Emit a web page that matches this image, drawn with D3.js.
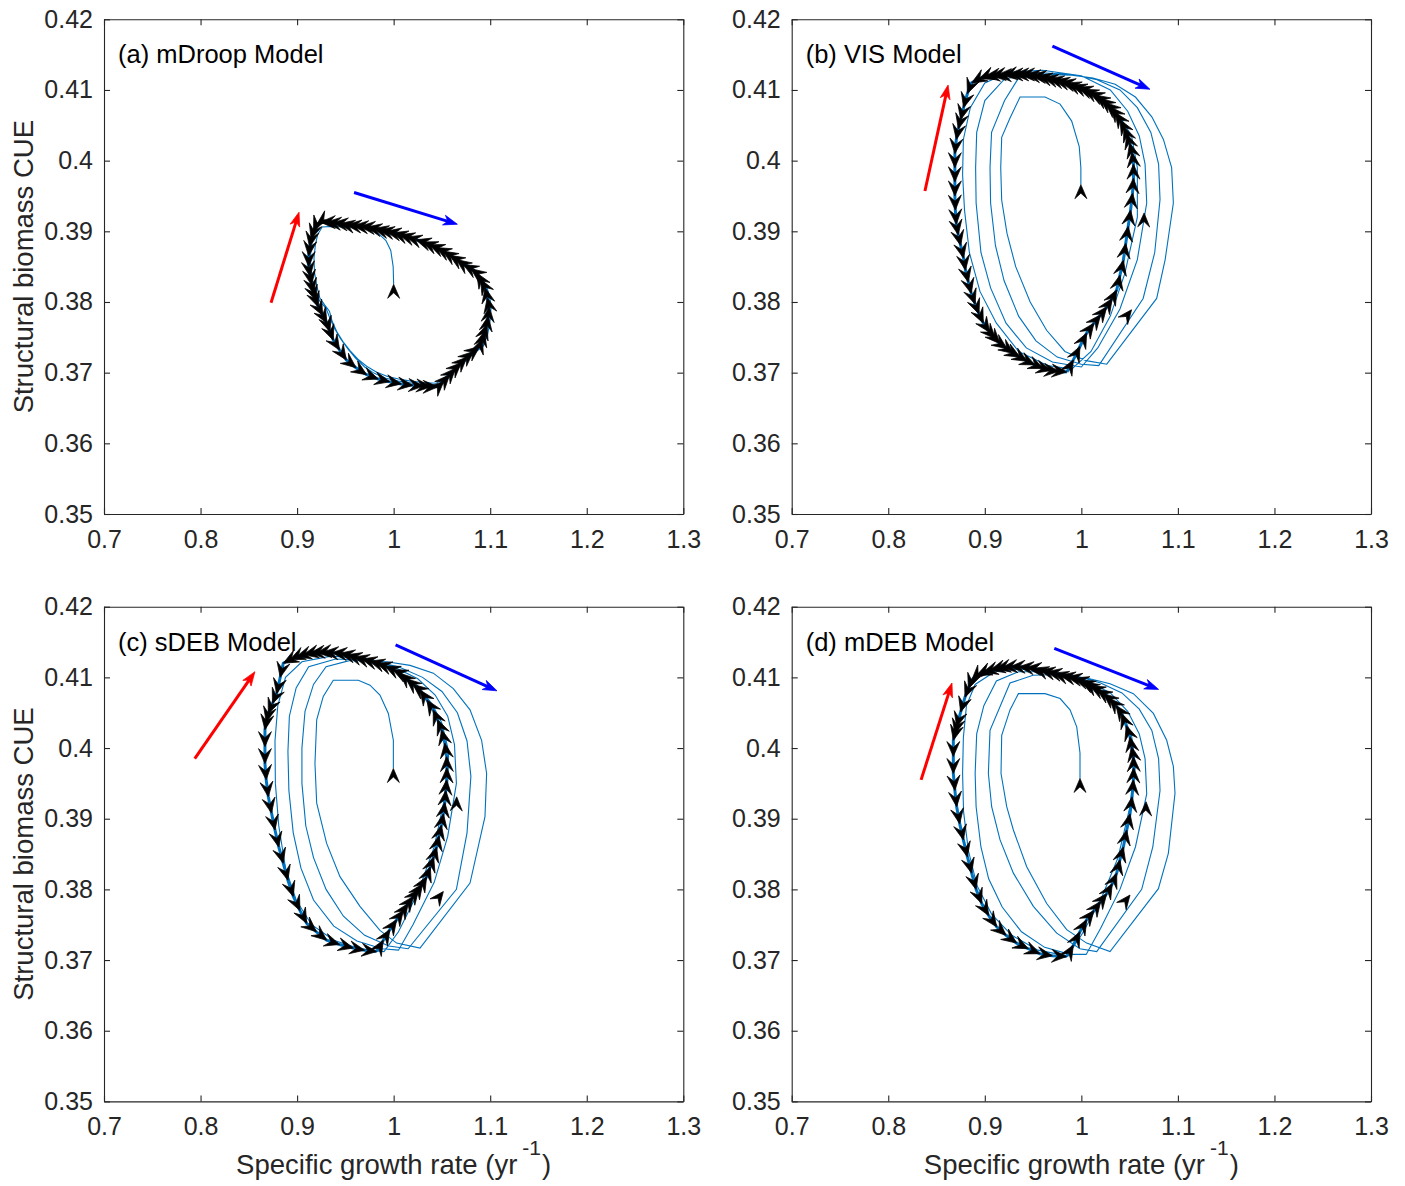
<!DOCTYPE html>
<html>
<head>
<meta charset="utf-8">
<script src="https://cdn.jsdelivr.net/npm/d3@7/dist/d3.min.js"></script>
<style>
body { margin: 0; background: #fff; }
svg text { font-family: "Liberation Sans", Arial, Helvetica, sans-serif; }
</style>
</head>
<body>
<div id="chart"></div>
<script>
const xTicks = [0.7, 0.8, 0.9, 1.0, 1.1, 1.2, 1.3];
const xTickLabels = ["0.7", "0.8", "0.9", "1", "1.1", "1.2", "1.3"];
const yTicks = [0.35, 0.36, 0.37, 0.38, 0.39, 0.40, 0.41, 0.42];
const yTickLabels = ["0.35", "0.36", "0.37", "0.38", "0.39", "0.4", "0.41", "0.42"];
const panelLabels = ["(a) mDroop Model", "(b) VIS Model", "(c) sDEB Model", "(d) mDEB Model"];
const yLabel = "Structural biomass CUE";
const xLabel = "Specific growth rate (yr";

// blue trajectories (growth rate, CUE)
const trajA = [[1.000,0.3825],[0.9995,0.3850],[0.997,0.3873],[0.992,0.3887],[0.985,0.3896],[0.976,0.3902],[0.965,0.3905],[0.950,0.3906],[0.936,0.3907],[0.926,0.3906],[0.9215,0.3896],[0.9190,0.3882],[0.9175,0.3862],[0.9180,0.3842],[0.9205,0.3822],[0.9235,0.3806],[0.9285,0.3796],[0.9335,0.3787],[0.9365,0.3772],[0.9415,0.3757],[0.9475,0.3744],[0.9550,0.3731],[0.9630,0.3719],[0.9720,0.3709],[0.9820,0.3701],[0.9930,0.3695],[1.0050,0.3691],[1.0180,0.3688],[1.0300,0.3686],[1.0440,0.3685],[1.0505,0.3690],[1.0600,0.3701],[1.0700,0.3713],[1.0830,0.3727],[1.0930,0.3738],[1.0975,0.3755],[1.1000,0.3775],[1.1010,0.3795],[1.0990,0.3810],[1.0960,0.3823],[1.0910,0.3834],[1.0860,0.3843],[1.0800,0.3850],[1.0720,0.3856],[1.0600,0.3866],[1.0450,0.3877],[1.0300,0.3886],[1.0100,0.3896],[0.9900,0.3903],[0.9700,0.3908],[0.9500,0.3911],[0.9350,0.3913],[0.9240,0.3912],[0.9185,0.3900],[0.9155,0.3886],[0.9140,0.3868],[0.9140,0.3850],[0.9160,0.3830],[0.9190,0.3814],[0.9235,0.3801],[0.9300,0.3791],[0.9340,0.3777],[0.9390,0.3762],[0.9450,0.3748],[0.9530,0.3733],[0.9610,0.3720],[0.9700,0.3708],[0.9800,0.3699],[0.9920,0.3692],[1.0050,0.3688],[1.0200,0.3685],[1.0350,0.3683],[1.0470,0.3682],[1.0530,0.3688],[1.0620,0.3700],[1.0730,0.3715],[1.0850,0.3729],[1.0920,0.3737],[1.0960,0.3755],[1.0985,0.3775],[1.0995,0.3795],[1.0975,0.3810],[1.0950,0.3822]];

const trajB = [[0.9995,0.3966],[0.9995,0.3990],[0.9978,0.4020],[0.9900,0.4056],[0.9780,0.4080],[0.9624,0.4090],[0.9365,0.4090],[0.9260,0.4060],[0.9175,0.4033],[0.9165,0.3990],[0.9175,0.3944],[0.9230,0.3897],[0.9320,0.3850],[0.9470,0.3800],[0.9640,0.3760],[0.9830,0.3730],[1.0050,0.3717],[1.0263,0.3712],
  [1.0780,0.3805],[1.0868,0.3860],[1.0953,0.3940],[1.0935,0.3990],[1.0850,0.4030],[1.0730,0.4062],[1.0560,0.4090],[1.0350,0.4108],[1.0120,0.4117],[0.9900,0.4121],[0.9600,0.4122],
  [0.9350,0.4117],[0.9205,0.4085],[0.9070,0.4040],[0.9054,0.3990],[0.9060,0.3940],[0.9110,0.3880],[0.9200,0.3830],[0.9350,0.3780],[0.9530,0.3745],[0.9750,0.3722],[1.0000,0.3712],[1.0180,0.3710],
  [1.0640,0.3805],[1.0760,0.3870],[1.0815,0.3945],[1.0800,0.3995],[1.0720,0.4040],[1.0580,0.4075],[1.0400,0.4100],[1.0150,0.4115],[0.9900,0.4122],
  [0.9500,0.4125],[0.9200,0.4115],[0.9000,0.4085],[0.8916,0.4040],[0.8905,0.3990],[0.8910,0.3940],[0.8960,0.3870],[0.9060,0.3820],[0.9220,0.3770],[0.9430,0.3735],[0.9700,0.3715],[1.0000,0.3708],
  [1.0170,0.3735],[1.0400,0.3790],[1.0580,0.3860],[1.0677,0.3940],[1.0660,0.3995],[1.0600,0.4035],[1.0480,0.4070],[1.0300,0.4100],[1.0000,0.4120],
  [0.9600,0.4128],[0.9250,0.4125],[0.9000,0.4110],[0.8850,0.4075],[0.8778,0.4030],[0.8770,0.3980],[0.8790,0.3930],[0.8840,0.3870],[0.8950,0.3815],[0.9120,0.3770],[0.9350,0.3730],[0.9650,0.3710],[0.9900,0.3705],
  [1.0100,0.3730],[1.0300,0.3780],[1.0450,0.3840],[1.0580,0.3920],[1.0580,0.3990],[1.0520,0.4035],[1.0400,0.4062],[1.0200,0.4090],[0.9950,0.4105]];

const trajC = [[0.9997,0.3971],[0.9997,0.4011],[0.9945,0.4049],[0.9858,0.4075],[0.9755,0.4089],[0.9634,0.4096],[0.9375,0.4096],[0.9271,0.4073],[0.9203,0.4040],[0.9185,0.3978],[0.9203,0.3922],[0.9306,0.3865],[0.9444,0.3818],[0.9651,0.3776],[0.9858,0.3742],[1.0031,0.3724],[1.0273,0.3717],
  [1.0791,0.3809],[1.0946,0.3903],[1.0963,0.3964],[1.0911,0.4011],[1.0791,0.4054],[1.0618,0.4084],[1.0411,0.4106],[1.0170,0.4117],[0.9928,0.4122],[0.9550,0.4124],
  [0.9300,0.4115],[0.9170,0.4090],[0.9082,0.4052],[0.9050,0.4000],[0.9050,0.3950],[0.9090,0.3890],[0.9170,0.3845],[0.9300,0.3800],[0.9480,0.3762],[0.9700,0.3735],[0.9950,0.3720],[1.0150,0.3716],
  [1.0650,0.3800],[1.0760,0.3880],[1.0800,0.3960],[1.0760,0.4010],[1.0660,0.4050],[1.0500,0.4080],[1.0300,0.4100],[1.0050,0.4115],[0.9750,0.4124],
  [0.9400,0.4126],[0.9120,0.4115],[0.8990,0.4085],[0.8920,0.4045],[0.8905,0.3995],[0.8915,0.3940],[0.8960,0.3880],[0.9040,0.3830],[0.9170,0.3785],[0.9380,0.3748],[0.9620,0.3727],[0.9880,0.3716],[1.0050,0.3714],
  [1.0200,0.3750],[1.0420,0.3810],[1.0560,0.3875],[1.0650,0.3950],[1.0630,0.4005],[1.0560,0.4045],[1.0430,0.4075],[1.0250,0.4098],[1.0000,0.4115],[0.9700,0.4127],
  [0.9350,0.4130],[0.9050,0.4122],[0.8880,0.4100],[0.8800,0.4060],[0.8771,0.4010],[0.8775,0.3950],[0.8810,0.3890],[0.8880,0.3830],[0.8990,0.3785],[0.9150,0.3750],[0.9380,0.3728],[0.9650,0.3716],[0.9900,0.3712],
  [1.0050,0.3740],[1.0250,0.3795],[1.0420,0.3860],[1.0560,0.3950],[1.0570,0.3995],[1.0500,0.4035],[1.0400,0.4062],[1.0250,0.4088],[1.0050,0.4108],[0.9800,0.4122]];

const trajD = [[0.9986,0.3957],[0.9986,0.3993],[0.9952,0.4030],[0.9883,0.4054],[0.9780,0.4070],[0.9624,0.4077],[0.9348,0.4077],[0.9261,0.4054],[0.9175,0.4018],[0.9168,0.3964],[0.9227,0.3917],[0.9296,0.3884],[0.9434,0.3832],[0.9641,0.3780],[0.9848,0.3743],[1.0055,0.3724],[1.0297,0.3712],
  [1.0798,0.3801],[1.0901,0.3851],[1.0970,0.3936],[1.0953,0.3974],[1.0884,0.4011],[1.0746,0.4049],[1.0539,0.4077],[1.0297,0.4091],[1.0056,0.4099],[0.9750,0.4104],
  [0.9500,0.4103],[0.9261,0.4092],[0.9054,0.4025],[0.9037,0.3964],[0.9071,0.3917],[0.9158,0.3870],[0.9296,0.3823],[0.9503,0.3776],[0.9745,0.3738],[0.9986,0.3716],[1.0159,0.3712],
  [1.0625,0.3800],[1.0740,0.3860],[1.0815,0.3940],[1.0800,0.3985],[1.0730,0.4025],[1.0600,0.4055],[1.0420,0.4078],[1.0200,0.4092],[0.9950,0.4102],[0.9650,0.4108],
  [0.9350,0.4108],[0.9120,0.4095],[0.8990,0.4060],[0.8916,0.4020],[0.8900,0.3964],[0.8910,0.3917],[0.8960,0.3860],[0.9040,0.3815],[0.9180,0.3775],[0.9380,0.3740],[0.9620,0.3718],[0.9880,0.3708],[1.0050,0.3708],
  [1.0200,0.3745],[1.0400,0.3800],[1.0560,0.3860],[1.0677,0.3935],[1.0660,0.3985],[1.0600,0.4020],[1.0480,0.4052],[1.0300,0.4078],[1.0050,0.4096],[0.9750,0.4107],
  [0.9400,0.4112],[0.9100,0.4108],[0.8900,0.4090],[0.8810,0.4060],[0.8778,0.4015],[0.8770,0.3964],[0.8780,0.3910],[0.8830,0.3855],[0.8920,0.3805],[0.9070,0.3765],[0.9280,0.3735],[0.9550,0.3714],[0.9850,0.3706],
  [1.0000,0.3735],[1.0200,0.3785],[1.0380,0.3845],[1.0500,0.3915],[1.0560,0.3975],[1.0520,0.4018],[1.0420,0.4050],[1.0250,0.4078],[1.0000,0.4097],[0.9700,0.4107]];

// final cycles, one point per time step (black arrow heads)
const cycleA = [[1.046,0.3680],[1.052,0.3688],[1.058,0.3697],[1.064,0.3706],[1.070,0.3714],[1.076,0.3722],[1.0825,0.3730],[1.089,0.3737],[1.092,0.3748],[1.094,0.3758],[1.0965,0.3768],[1.098,0.3780],[1.099,0.3793],[1.097,0.3806],[1.0948,0.3820],[1.090,0.3832],[1.086,0.3841],[1.080,0.3847],[1.0722,0.3853],[1.065,0.3860],[1.058,0.3866],[1.051,0.3872],[1.044,0.3877],[1.037,0.3881],[1.030,0.3885],[1.023,0.3888],[1.0135,0.3892],[1.006,0.3895],[0.999,0.3898],[0.992,0.3900],[0.985,0.3902],[0.979,0.3904],[0.972,0.3906],[0.965,0.3907],[0.958,0.3908],[0.951,0.3909],[0.944,0.3911],[0.937,0.3912],[0.930,0.3913],[0.924,0.3913],[0.920,0.3909],[0.917,0.3900],[0.9145,0.3889],[0.913,0.3878],[0.912,0.3865],[0.912,0.3850],[0.9135,0.3836],[0.915,0.3824],[0.917,0.3812],[0.9195,0.3802],[0.922,0.3793],[0.9265,0.3781],[0.931,0.3770],[0.934,0.3758],[0.9375,0.3746],[0.944,0.3732],[0.951,0.3718],[0.961,0.3707],[0.972,0.3697],[0.984,0.3691],[0.996,0.3687],[1.008,0.3684],[1.020,0.3682],[1.031,0.3681],[1.039,0.3680],[1.046,0.3680]];

const cycleB = [[0.985,0.3701],[0.9917,0.3718],[0.9985,0.3737],[1.0055,0.3756],[1.0130,0.3770],[1.0200,0.3782],[1.0263,0.3793],[1.0320,0.3805],[1.0366,0.3817],[1.0400,0.3838],[1.0435,0.3859],[1.0460,0.3883],[1.0485,0.3907],[1.0510,0.3930],[1.0530,0.3954],[1.0540,0.3975],[1.0540,0.3995],[1.0525,0.4012],[1.0500,0.4025],[1.0470,0.4038],[1.0440,0.4048],[1.0400,0.4058],[1.0350,0.4068],[1.0300,0.4076],[1.0250,0.4082],[1.0194,0.4088],[1.0140,0.4093],[1.0080,0.4097],[1.0020,0.4101],[0.9960,0.4104],[0.9900,0.4107],[0.9840,0.4110],[0.9780,0.4112],[0.9720,0.4114],[0.9660,0.4116],[0.9600,0.4118],[0.9540,0.4120],[0.9480,0.4121],[0.9420,0.4122],[0.9360,0.4122],[0.9300,0.4122],[0.9240,0.4122],[0.9180,0.4121],[0.9120,0.4121],[0.9060,0.4120],[0.9000,0.4119],[0.8940,0.4116],[0.8864,0.4110],[0.8820,0.4095],[0.8780,0.4075],[0.8750,0.4058],[0.8726,0.4045],[0.8705,0.4030],[0.8690,0.4010],[0.8690,0.3990],[0.8690,0.3970],[0.8690,0.3950],[0.8695,0.3930],[0.8705,0.3910],[0.8725,0.3895],[0.8750,0.3880],[0.8780,0.3862],[0.8800,0.3845],[0.8830,0.3828],[0.8860,0.3812],[0.8900,0.3797],[0.8940,0.3783],[0.8985,0.3770],[0.9050,0.3757],[0.9110,0.3748],[0.9158,0.3741],[0.9230,0.3734],[0.9300,0.3727],[0.9365,0.3722],[0.9440,0.3716],[0.9520,0.3711],[0.9607,0.3706],[0.9690,0.3703],[0.9770,0.3702],[0.985,0.3701]];

const cycleC = [[0.9824,0.3712],[0.9893,0.3728],[0.9960,0.3743],[1.0031,0.3757],[1.0100,0.3770],[1.0150,0.3780],[1.0204,0.3790],[1.0260,0.3800],[1.0300,0.3808],[1.0342,0.3818],[1.0380,0.3832],[1.0415,0.3846],[1.0445,0.3860],[1.0470,0.3876],[1.0495,0.3891],[1.0515,0.3907],[1.0530,0.3923],[1.0540,0.3940],[1.0549,0.3955],[1.0551,0.3972],[1.0549,0.3988],[1.0530,0.4007],[1.0497,0.4026],[1.0455,0.4040],[1.0410,0.4054],[1.0345,0.4068],[1.0273,0.4082],[1.0200,0.4090],[1.0130,0.4098],[1.0066,0.4106],[0.9990,0.4111],[0.9910,0.4116],[0.9824,0.4120],[0.9750,0.4123],[0.9670,0.4126],[0.9590,0.4129],[0.9513,0.4132],[0.9440,0.4134],[0.9360,0.4135],[0.9271,0.4136],[0.9200,0.4135],[0.9130,0.4134],[0.9064,0.4132],[0.8990,0.4129],[0.8926,0.4125],[0.8857,0.4120],[0.8825,0.4100],[0.8788,0.4077],[0.8745,0.4063],[0.8702,0.4049],[0.8680,0.4037],[0.8667,0.4026],[0.8667,0.4002],[0.8667,0.3978],[0.8680,0.3955],[0.8702,0.3931],[0.8735,0.3908],[0.8771,0.3884],[0.8810,0.3860],[0.8857,0.3837],[0.8905,0.3813],[0.8961,0.3790],[0.9030,0.3770],[0.9099,0.3752],[0.9200,0.3740],[0.9306,0.3728],[0.9440,0.3722],[0.9582,0.3717],[0.9700,0.3714],[0.9824,0.3712]];

const cycleD = [[0.9848,0.3705],[0.9917,0.3721],[0.9985,0.3740],[1.0055,0.3757],[1.0130,0.3770],[1.0200,0.3783],[1.0263,0.3794],[1.0320,0.3808],[1.0366,0.3823],[1.0400,0.3842],[1.0435,0.3860],[1.0470,0.3884],[1.0504,0.3907],[1.0525,0.3931],[1.0539,0.3955],[1.0542,0.3972],[1.0539,0.3988],[1.0520,0.4002],[1.0504,0.4016],[1.0465,0.4032],[1.0418,0.4049],[1.0360,0.4060],[1.0290,0.4070],[1.0228,0.4077],[1.0160,0.4083],[1.0090,0.4088],[1.0030,0.4093],[0.9986,0.4096],[0.9920,0.4099],[0.9850,0.4101],[0.9780,0.4103],[0.9710,0.4106],[0.9640,0.4108],[0.9570,0.4110],[0.9503,0.4113],[0.9430,0.4114],[0.9350,0.4115],[0.9261,0.4115],[0.9180,0.4114],[0.9110,0.4112],[0.9054,0.4110],[0.8980,0.4107],[0.8916,0.4103],[0.8864,0.4096],[0.8830,0.4084],[0.8795,0.4072],[0.8750,0.4051],[0.8709,0.4030],[0.8690,0.4020],[0.8674,0.4011],[0.8674,0.3988],[0.8674,0.3964],[0.8690,0.3940],[0.8709,0.3917],[0.8740,0.3893],[0.8778,0.3870],[0.8820,0.3846],[0.8864,0.3823],[0.8910,0.3800],[0.8968,0.3780],[0.9040,0.3763],[0.9123,0.3747],[0.9220,0.3735],[0.9330,0.3724],[0.9450,0.3716],[0.9572,0.3709],[0.9700,0.3706],[0.9848,0.3705]];

// single arrow heads on the spiral: tip x, tip y, ahead x, ahead y
const marksA = [[1.000,0.3825,1.000,0.3850]];
const marksB = [[0.9995,0.3966,0.9995,0.3990],[1.065,0.3926,1.0655,0.3950],[1.052,0.3789,1.060,0.3803]];
const marksC = [[0.9997,0.3971,0.9997,0.3995],[1.0653,0.3931,1.0658,0.3955],[1.0515,0.3797,1.0595,0.3811]];
const marksD = [[0.9986,0.3957,0.9986,0.3981],[1.067,0.3924,1.0675,0.3948],[1.0504,0.3792,1.0584,0.3806]];

// red and blue direction arrows: tail, head
const redArrows = [[[0.873,0.3799],[0.902,0.3927]], [[0.838,0.3957],[0.862,0.4107]], [[0.794,0.3985],[0.8563,0.4108]], [[0.834,0.3955],[0.866,0.4092]]];
const blueArrows = [[[0.959,0.3955],[1.066,0.3910]], [[0.970,0.4162],[1.071,0.4101]], [[1.002,0.4146],[1.107,0.4081]], [[0.972,0.4141],[1.080,0.4083]]];

const W = 579.3, H = 494.7;
const origen = [[104, 19.3], [791.7, 19.3], [104, 606.7], [791.7, 606.7]];
const panels = [
    {label: panelLabels[0], traj: trajA, cycle: cycleA, marks: marksA},
    {label: panelLabels[1], traj: trajB, cycle: cycleB, marks: marksB},
    {label: panelLabels[2], traj: trajC, cycle: cycleC, marks: marksC},
    {label: panelLabels[3], traj: trajD, cycle: cycleD, marks: marksD}
];

const svg = d3.select("#chart")
    .append("svg")
    .attr("width", 1405)
    .attr("height", 1186)
    .style("background", "#fff");

function cabeza(g, px, py, ang, L, A, N, fill) {
    g.append("path")
        .attr("d", "M0,0L" + (-L) + "," + (-A / 2) + "L" + (-N) + ",0L" + (-L) + "," + (A / 2) + "Z")
        .attr("transform", "translate(" + px + "," + py + ") rotate(" + (ang * 180 / Math.PI) + ")")
        .attr("fill", fill)
        .attr("stroke", fill)
        .attr("stroke-width", 0.7)
        .attr("stroke-linejoin", "round");
}

function flecha(g, gx, gy, d, color) {
    let x0 = gx(d[0][0]), y0 = gy(d[0][1]), x1 = gx(d[1][0]), y1 = gy(d[1][1]);
    let ang = Math.atan2(y1 - y0, x1 - x0);
    g.append("line")
        .attr("x1", x0).attr("y1", y0)
        .attr("x2", x1 - 9 * Math.cos(ang)).attr("y2", y1 - 9 * Math.sin(ang))
        .attr("stroke", color)
        .attr("stroke-width", 3);
    cabeza(g, x1, y1, ang, 14, 10, 10, color);
}

panels.forEach(function (p, i) {
    let g = svg.append("g")
        .attr("transform", "translate(" + origen[i][0] + "," + origen[i][1] + ")");

    let gx = d3.scaleLinear().domain([0.7, 1.3]).range([0, W]);
    let gy = d3.scaleLinear().domain([0.35, 0.42]).range([H, 0]);
    let linea = d3.line().x(d => gx(d[0])).y(d => gy(d[1]));

    // box and ticks
    let ejes = [
        g.append("g").attr("transform", "translate(0," + H + ")")
            .call(d3.axisBottom(gx).tickValues(xTicks).tickSizeInner(-6).tickSizeOuter(0).tickPadding(16)
                .tickFormat((d, k) => xTickLabels[k])),
        g.append("g")
            .call(d3.axisLeft(gy).tickValues(yTicks).tickSizeInner(-6).tickSizeOuter(0).tickPadding(11)
                .tickFormat((d, k) => yTickLabels[k])),
        g.append("g")
            .call(d3.axisTop(gx).tickValues(xTicks).tickSizeInner(-6).tickSizeOuter(0).tickFormat("")),
        g.append("g").attr("transform", "translate(" + W + ",0)")
            .call(d3.axisRight(gy).tickValues(yTicks).tickSizeInner(-6).tickSizeOuter(0).tickFormat(""))
    ];
    ejes.forEach(function (e) {
        e.attr("font-family", null).attr("font-size", 25);
        e.selectAll("path, line").attr("stroke", "#262626").attr("stroke-width", 1.1);
        e.selectAll("text").attr("fill", "#262626");
    });

    // trajectory and cycle
    g.append("path")
        .datum(p.traj)
        .attr("d", linea)
        .attr("fill", "none")
        .attr("stroke", "#0072BD")
        .attr("stroke-width", 1.1);
    g.append("path")
        .datum(p.cycle)
        .attr("d", linea)
        .attr("fill", "none")
        .attr("stroke", "#0072BD")
        .attr("stroke-width", 3);

    // black heads along the cycle
    for (let k = 1; k < p.cycle.length; k++) {
        let a = p.cycle[k - 1], b = p.cycle[k];
        let ang = Math.atan2(gy(b[1]) - gy(a[1]), gx(b[0]) - gx(a[0]));
        cabeza(g, gx(b[0]), gy(b[1]), ang, 15, 13, 9, "#000");
    }
    p.marks.forEach(function (m) {
        let ang = Math.atan2(gy(m[3]) - gy(m[1]), gx(m[2]) - gx(m[0]));
        cabeza(g, gx(m[0]), gy(m[1]), ang, 14, 12, 8.5, "#000");
    });

    flecha(g, gx, gy, redArrows[i], "#FF0000");
    flecha(g, gx, gy, blueArrows[i], "#0000FF");

    // panel name
    g.append("text")
        .attr("x", 14)
        .attr("y", 44)
        .attr("font-size", 25.5)
        .attr("fill", "#000")
        .text(p.label);

    // axis labels
    if (i % 2 === 0) {
        g.append("text")
            .attr("text-anchor", "middle")
            .attr("transform", "translate(-71," + (H / 2) + ") rotate(-90)")
            .attr("font-size", 27.5)
            .attr("fill", "#262626")
            .text(yLabel);
    }
    if (i >= 2) {
        let t = g.append("text")
            .attr("text-anchor", "middle")
            .attr("x", W / 2)
            .attr("y", H + 73)
            .attr("font-size", 27.5)
            .attr("fill", "#262626");
        t.append("tspan").text(xLabel);
        t.append("tspan").attr("dx", 5).attr("dy", -19).attr("font-size", 21).text("-1");
        t.append("tspan").attr("dx", 1).attr("dy", 19).text(")");
    }
});
</script>
</body>
</html>
